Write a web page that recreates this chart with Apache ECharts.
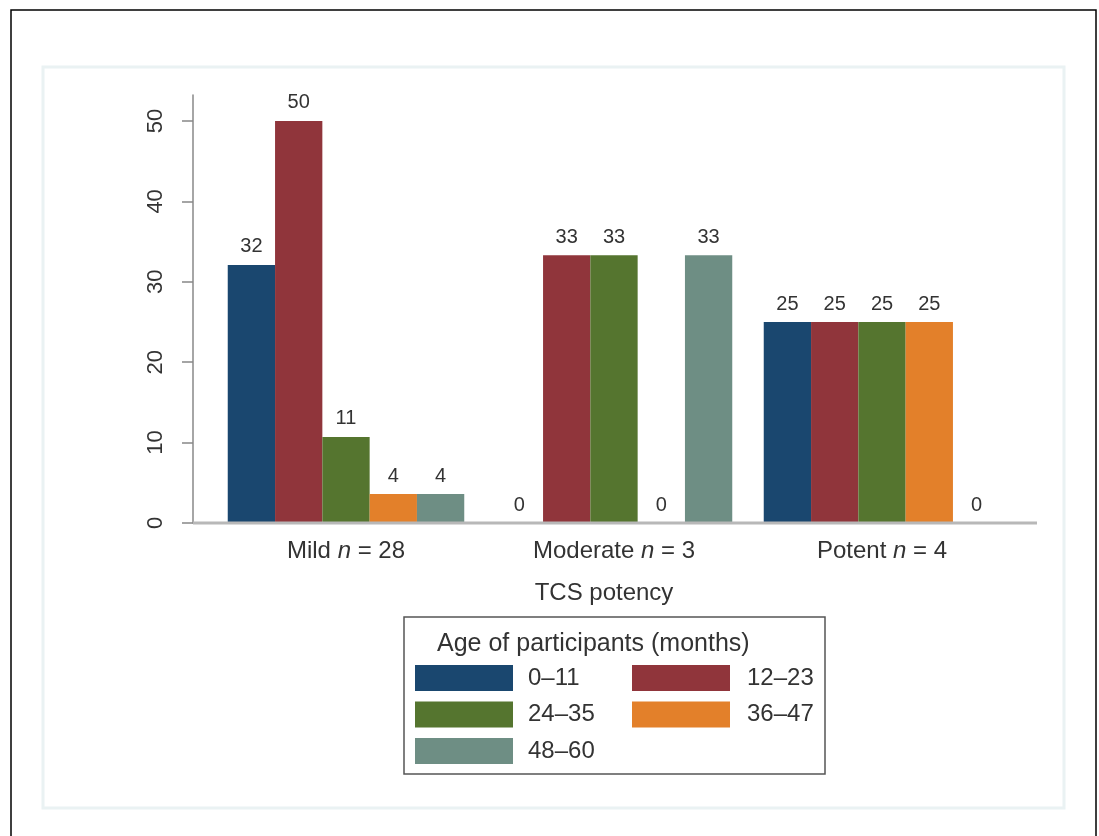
<!DOCTYPE html>
<html>
<head>
<meta charset="utf-8">
<script src="https://cdn.jsdelivr.net/npm/echarts@6/dist/echarts.min.js"></script>
<style>
html,body{margin:0;padding:0;background:#fff;}
#chart{width:1099px;height:836px;}
</style>
</head>
<body>
<div id="chart"></div>
<script>
// ---- data ----
var categories = ['Mild', 'Moderate', 'Potent'];
var groupN = [28, 3, 4];
var ageGroups = ['0–11', '12–23', '24–35', '36–47', '48–60'];
var pct_0_11  = [32.1, 0, 25];
var pct_12_23 = [50, 33.3, 25];
var pct_24_35 = [10.7, 33.3, 25];
var pct_36_47 = [3.6, 0, 25];
var pct_48_60 = [3.6, 33.3, 0];
var yTicks = [0, 10, 20, 30, 40, 50];
var colors = ['#1a476f', '#90353b', '#55752f', '#e3802a', '#6e8e84'];

var seriesData = [pct_0_11, pct_12_23, pct_24_35, pct_36_47, pct_48_60];
var FONT = '"Liberation Sans", Arial, Helvetica, sans-serif';

var chart = echarts.init(document.getElementById('chart'));

var series = ageGroups.map(function (name, i) {
  return {
    name: name,
    type: 'bar',
    data: seriesData[i],
    barGap: '0%',
    barCategoryGap: '11.75%',
    itemStyle: { color: colors[i] },
    label: {
      show: true,
      position: 'top',
      distance: 8,
      fontFamily: FONT,
      fontSize: 20,
      color: '#333',
      formatter: function (p) { return Math.round(p.value); }
    }
  };
});

var option = {
  animation: false,
  backgroundColor: '#ffffff',
  textStyle: { fontFamily: FONT },
  grid: { left: 212, right: 83, top: 95, bottom: 313 },
  xAxis: {
    type: 'category',
    data: categories,
    axisLine: { show: false },
    axisTick: { show: false },
    axisLabel: {
      interval: 0,
      hideOverlap: false,
      margin: 16,
      fontFamily: FONT,
      fontSize: 24,
      color: '#333',
      formatter: function (v, idx) {
        return '{a|' + v + ' }{i|n}{a| = ' + groupN[idx] + '}';
      },
      rich: {
        a: { fontFamily: FONT, fontSize: 24, color: '#333' },
        i: { fontFamily: FONT, fontSize: 24, color: '#333', fontStyle: 'italic' }
      }
    },
    name: 'TCS potency',
    nameLocation: 'middle',
    nameGap: 58,
    nameTextStyle: { fontFamily: FONT, fontSize: 24, color: '#333', padding: [0, 20, 0, 0] }
  },
  yAxis: {
    type: 'value',
    min: 0,
    max: 53.23,
    offset: 19,
    splitLine: { show: false },
    axisLine: { show: true, lineStyle: { color: '#888', width: 1.5 } },
    axisTick: { show: true, length: 11, customValues: yTicks, lineStyle: { color: '#888', width: 1.5 } },
    axisLabel: {
      customValues: yTicks,
      rotate: 90,
      margin: 26,
      fontFamily: FONT,
      fontSize: 22,
      color: '#333'
    }
  },
  legend: [
    {
      data: [ageGroups[0], ageGroups[2], ageGroups[4]],
      orient: 'vertical',
      left: 415, top: 665,
      padding: 0,
      itemWidth: 98, itemHeight: 26, itemGap: 10.5,
      icon: 'rect',
      textStyle: { fontFamily: FONT, fontSize: 24, color: '#333', padding: [0, 0, 0, 10] }
    },
    {
      data: [ageGroups[1], ageGroups[3]],
      orient: 'vertical',
      left: 632, top: 665,
      padding: 0,
      itemWidth: 98, itemHeight: 26, itemGap: 10.5,
      icon: 'rect',
      textStyle: { fontFamily: FONT, fontSize: 24, color: '#333', padding: [0, 0, 0, 12] }
    }
  ],
  graphic: [
    { type: 'rect', z: -10, shape: { x: 11, y: 10, width: 1085, height: 900 }, style: { fill: 'none', stroke: '#000', lineWidth: 1.5 } },
    { type: 'rect', z: -9, shape: { x: 43, y: 67, width: 1021, height: 741 }, style: { fill: '#fff', stroke: '#eaf2f3', lineWidth: 3 } },
    { type: 'line', z: 5, shape: { x1: 193, y1: 523, x2: 1037, y2: 523 }, style: { stroke: '#b8b8b8', lineWidth: 3 } },
    { type: 'rect', z: 5, shape: { x: 404, y: 617, width: 421, height: 157 }, style: { fill: 'none', stroke: '#555', lineWidth: 1.5 } },
    { type: 'text', z: 5, left: 437, top: 632, style: { text: 'Age of participants (months)', font: '25px ' + FONT, fill: '#333' } }
  ],
  series: series
};

chart.setOption(option);
</script>
</body>
</html>
